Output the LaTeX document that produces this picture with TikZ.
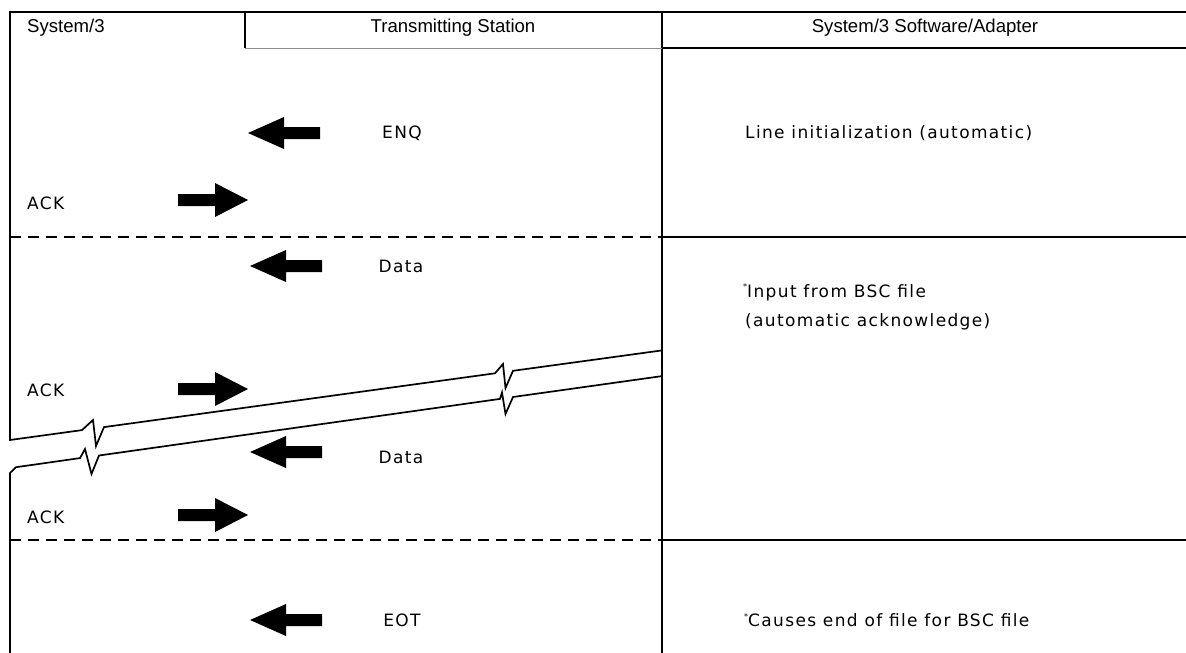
\documentclass[tikz,border=0pt]{standalone}
\usepackage{fontspec}
\setmainfont{DejaVu Sans}[LetterSpace=8]
\newfontfamily\hdfont{Liberation Sans}
\begin{document}
\begin{tikzpicture}[x=1pt,y=-1pt,
  frame/.style={line width=1.5pt},
  faint/.style={line width=0.7pt, black!45},
  sepdash/.style={line width=1.2pt, dash pattern=on 11pt off 7pt},
  brk/.style={line width=1.7pt, line join=miter},
  hd/.style={font=\hdfont\fontsize{18.6}{21}\selectfont, inner sep=0pt},
  txt/.style={font=\fontsize{17}{20}\selectfont, inner sep=0pt},
  blkR/.pic={\fill (-70,-6) -- (-33,-6) -- (-33,-17) -- (0,0) -- (-33,17) -- (-33,6) -- (-70,6) -- cycle;},
  blkL/.pic={\fill (72,-6) -- (36,-6) -- (36,-16) -- (0,0) -- (36,16) -- (36,6) -- (72,6) -- cycle;}
]
\useasboundingbox (0,0) rectangle (1186,653);

% frame and columns
\draw[brk] (1186,12) -- (10,12) -- (10,440) -- (82,430.1) -- (93,420) -- (96,446) -- (104,427.1)
  -- (495,373.3) -- (503,364) -- (505.5,388) -- (513,370.8) -- (662,350.4);
\draw[brk] (10,653) -- (10,473) -- (16,467.2) -- (80,458.1) -- (85,449) -- (91.5,474) -- (99,455.5)
  -- (500,398.9) -- (502,392.5) -- (505.5,414) -- (513,397) -- (662,376.1);
\draw[frame] (662,12) -- (662,653);
\draw[frame] (245,12) -- (245,48);
\draw[faint] (245,48) -- (662,48);
\draw[frame] (662,48) -- (1186,48);

% row separators
\draw[sepdash] (10,237) -- (662,237);
\draw[frame] (662,237) -- (1186,237);
\draw[sepdash] (10,540) -- (662,540);
\draw[frame] (662,540) -- (1186,540);

% header
\node[hd, anchor=west] (h1) at (27,28) {System/3};
\node[hd] (h2) at (453,28) {Transmitting Station};
\node[hd] (h3) at (925,28) {System/3 Software/Adapter};

% messages
\pic at (248,133) {blkL};
\node[txt] (enq) at (402,133) {ENQ};
\node[txt, anchor=west] (r1) at (745,133) {Line initialization (automatic)};

\node[txt, anchor=west] (ack1) at (27,203) {ACK};
\pic at (248,200) {blkR};

\pic at (250,266) {blkL};
\node[txt] (data1) at (401,266) {Data};
\node[txt, anchor=west] (r2) at (743,292) {\raisebox{0.45em}{\fontsize{8}{8}\selectfont *}Input from BSC file};
\node[txt, anchor=west] (r3) at (745,322) {(automatic acknowledge)};

\node[txt, anchor=west] (ack2) at (27,390) {ACK};
\pic at (248,389) {blkR};

\pic at (250,452) {blkL};
\node[txt] (data2) at (401,457) {Data};

\node[txt, anchor=west] (ack3) at (27,517) {ACK};
\pic at (248,515) {blkR};

\pic at (250,620) {blkL};
\node[txt] (eot) at (402,620) {EOT};
\node[txt, anchor=west] (r4) at (744,620) {\raisebox{0.45em}{\fontsize{8}{8}\selectfont *}Causes end of file for BSC file};
\end{tikzpicture}
\end{document}
